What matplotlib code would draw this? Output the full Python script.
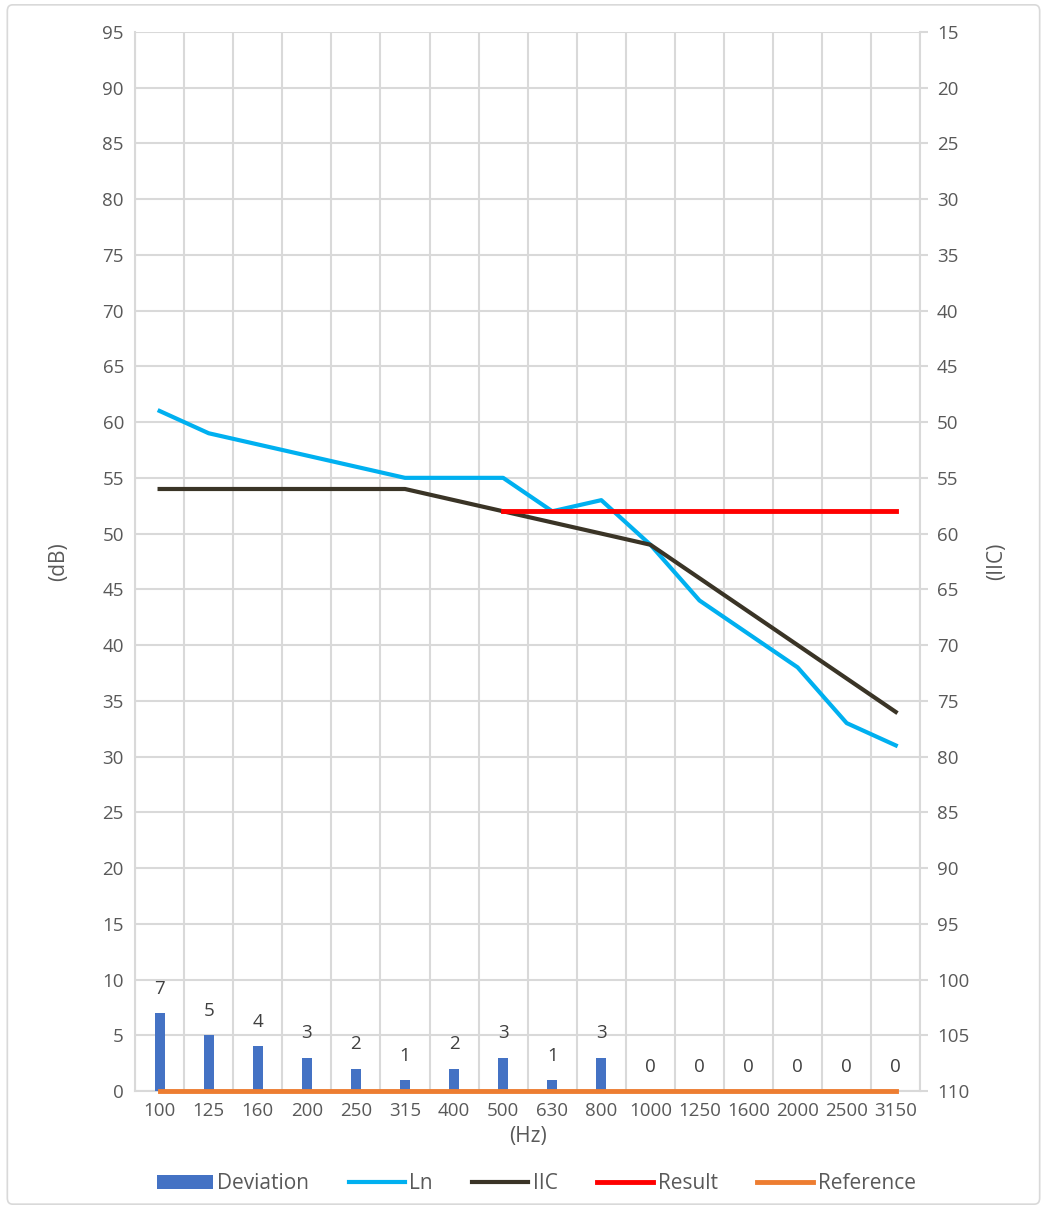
import numpy as np
import matplotlib.pyplot as plt
from matplotlib.patches import FancyBboxPatch

plt.rcParams['font.family'] = ['Open Sans', 'DejaVu Sans']

freqs = ['100', '125', '160', '200', '250', '315', '400', '500', '630', '800',
         '1000', '1250', '1600', '2000', '2500', '3150']
deviation = [7, 5, 4, 3, 2, 1, 2, 3, 1, 3, 0, 0, 0, 0, 0, 0]
ln = [61, 59, 58, 57, 56, 55, 55, 55, 52, 53, 49, 44, 41, 38, 33, 31]
iic = [54, 54, 54, 54, 54, 54, 53, 52, 51, 50, 49, 46, 43, 40, 37, 34]
result = [None] * 7 + [52] * 9
reference = [0] * 16

grey = '#595959'
gridc = '#D9D9D9'

fig = plt.figure(figsize=(10.47, 12.09), dpi=100)
fig.patches.append(FancyBboxPatch((0.007, 0.004), 0.986, 0.992, boxstyle='round,pad=0,rounding_size=0.005',
                                  transform=fig.transFigure, fill=False, edgecolor='#D9D9D9', lw=1.2))
ax = fig.add_axes([0.129, 0.0976, 0.750, 0.876])
x = np.arange(len(freqs))

ax.bar(x, deviation, width=0.2, color='#4472C4', label='Deviation', zorder=3)
for xi, d in zip(x, deviation):
    ax.annotate(str(d), (xi, d), xytext=(0, 11), textcoords='offset points',
                ha='center', va='bottom', fontsize=13.5, color='#404040')

ax.plot(x, ln, color='#00B0F0', lw=3, label='Ln', zorder=4)
ax.plot(x, iic, color='#3A3426', lw=3, label='IIC', zorder=4)
rx = [xi for xi, r in zip(x, result) if r is not None]
ry = [r for r in result if r is not None]
ax.plot(rx, ry, color='#FF0000', lw=3.5, label='Result', zorder=5)
ax.plot(x, reference, color='#ED7D31', lw=3.5, label='Reference', zorder=5, clip_on=False)

ax.set_xlim(-0.5, len(freqs) - 0.5)
ax.set_ylim(0, 95)
ax.set_yticks(np.arange(0, 96, 5))
ax.set_xticks(x)
ax.set_xticklabels(freqs)
ax.set_xticks(np.arange(-0.5, len(freqs), 1), minor=True)
ax.grid(True, which='minor', axis='x', color=gridc, lw=1.5, zorder=0)
ax.grid(True, which='major', axis='y', color=gridc, lw=1.5, zorder=0)
ax.tick_params(axis='both', which='both', length=0, labelsize=13.5, labelcolor=grey, pad=8)
for s in ['top', 'right']:
    ax.spines[s].set_visible(False)
for s in ['left', 'bottom']:
    ax.spines[s].set_color(gridc)
    ax.spines[s].set_linewidth(1.5)
ax.set_ylabel('(dB)', fontsize=15, color=grey, labelpad=24)
ax.set_xlabel('(Hz)', fontsize=15, color=grey, labelpad=4)

ax2 = ax.twinx()
ax2.set_ylim(110, 15)
ax2.set_yticks(np.arange(15, 111, 5))
ax2.tick_params(axis='y', length=6, color=gridc, width=1.5, labelsize=13.5, labelcolor=grey, pad=6)
for s in ['top', 'left', 'bottom']:
    ax2.spines[s].set_visible(False)
ax2.spines['right'].set_color(gridc)
ax2.spines['right'].set_linewidth(1.5)
ax2.set_ylabel('(IIC)', fontsize=15, color=grey, labelpad=12)

h, l = ax.get_legend_handles_labels()
order = [4, 0, 1, 2, 3]
h = [h[i] for i in order]
l = [l[i] for i in order]
leg = fig.legend(h, l, loc='center', bbox_to_anchor=(0.512, 0.021), ncol=5, frameon=False,
                 fontsize=15, labelcolor=grey, handlelength=2.7, handleheight=0.7,
                 handletextpad=0.2, columnspacing=1.9)

fig.savefig('out.png', dpi=100)
